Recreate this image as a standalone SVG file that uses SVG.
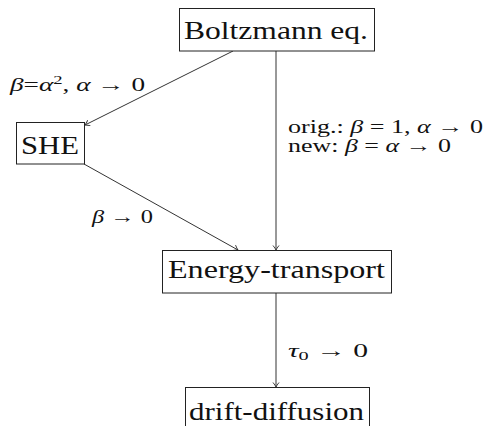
<svg xmlns="http://www.w3.org/2000/svg" width="485" height="426" viewBox="0 0 485 426">
<style>
.box{fill:#fff;stroke:#222;stroke-width:1}
.nt{font-family:"Liberation Serif","DejaVu Serif",serif;font-size:26px;fill:#111}
.lb{font-family:"Liberation Serif","DejaVu Serif",serif;font-size:19px;fill:#111}
.m{font-style:italic}
.edge{fill:none;stroke:#333;stroke-width:1}
</style>
<defs>
<marker id="ar" viewBox="-6 -4 7 8" refX="0" refY="0" markerWidth="7" markerHeight="8" markerUnits="userSpaceOnUse" orient="auto">
<path d="M-4.5,-3 Q-1.5,-0.6 0,0 Q-1.5,0.6 -4.5,3" fill="none" stroke="#333" stroke-width="0.9"/>
</marker>
</defs>
<rect width="485" height="426" fill="#fff"/>
<g id="edges">
<path class="edge" d="M233,51 L85,125" marker-end="url(#ar)"/>
<path class="edge" d="M276,51 L276,250" marker-end="url(#ar)"/>
<path class="edge" d="M84,164 L238,250" marker-end="url(#ar)"/>
<path class="edge" d="M276,293 L276,387" marker-end="url(#ar)"/>
<text class="lb" x="10" y="91" textLength="135" lengthAdjust="spacingAndGlyphs"><tspan class="m">β</tspan>=<tspan class="m">α</tspan><tspan dy="-7" font-size="13">2</tspan><tspan dy="7">, </tspan><tspan class="m">α</tspan> → 0</text>
<text class="lb" x="288" y="133" textLength="195" lengthAdjust="spacingAndGlyphs">orig.:  <tspan class="m">β</tspan> = 1, <tspan class="m">α</tspan> → 0</text>
<text class="lb" x="288" y="152" textLength="163" lengthAdjust="spacingAndGlyphs">new:  <tspan class="m">β</tspan> = <tspan class="m">α</tspan> → 0</text>
<text class="lb" x="92" y="223" textLength="61" lengthAdjust="spacingAndGlyphs"><tspan class="m">β</tspan> → 0</text>
<text class="lb" x="288" y="357" textLength="80" lengthAdjust="spacingAndGlyphs"><tspan class="m">τ</tspan><tspan dy="3" font-size="13">0</tspan><tspan dy="-3"> →   0</tspan></text>
</g>
<g id="boltzmann">
<rect class="box" x="179.5" y="8.5" width="195" height="42.5"/>
<text class="nt" x="184" y="39" textLength="184" lengthAdjust="spacingAndGlyphs">Boltzmann eq.</text>
</g>
<g id="she">
<rect class="box" x="16.5" y="122.5" width="68" height="41.5"/>
<text class="nt" x="21" y="154" textLength="58" lengthAdjust="spacingAndGlyphs">SHE</text>
</g>
<g id="energy">
<rect class="box" x="162.5" y="250.5" width="229" height="42.5"/>
<text class="nt" x="168" y="278" textLength="217" lengthAdjust="spacingAndGlyphs">Energy-transport</text>
</g>
<g id="drift">
<rect class="box" x="185.5" y="387.5" width="184" height="45"/>
<text class="nt" x="189" y="420" textLength="175" lengthAdjust="spacingAndGlyphs">drift-diffusion</text>
</g>
</svg>
